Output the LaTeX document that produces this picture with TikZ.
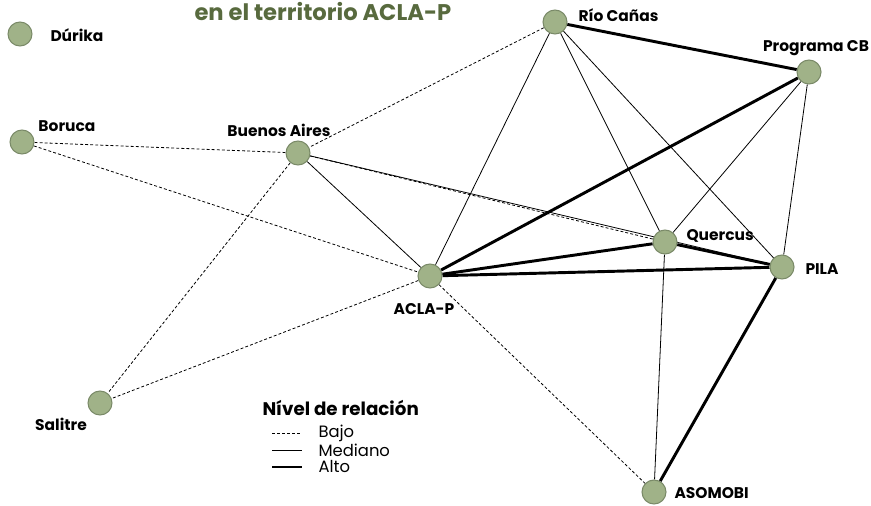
\documentclass[tikz,border=0pt]{standalone}
\usepackage{fontspec}
\setmainfont{Poppins}
\usetikzlibrary{positioning,backgrounds}
\definecolor{nodefill}{RGB}{160,178,136}
\definecolor{nodeline}{RGB}{122,138,104}
\definecolor{titlecol}{RGB}{88,106,62}
\tikzset{every picture/.style={line width=0.75pt}}
\tikzset{
  actor/.style={circle,draw=nodeline,fill=nodefill,line width=0.8pt,minimum size=18pt,inner sep=0pt},
  lbl/.style={inner sep=0.75pt,font=\fontsize{11.6}{14}\selectfont\bfseries},
  leg/.style={anchor=west,inner sep=0.75pt,font=\fontsize{12.3}{14}\selectfont},
  bajo/.style={draw=black,line width=0.6pt,dash pattern={on 2.2pt off 1.6pt}},
  mediano/.style={draw=black,line width=0.6pt},
  alto/.style={draw=black,line width=2.2pt}
}

\begin{document}
\begin{tikzpicture}[x=0.75pt,y=0.75pt,yscale=-1,xscale=1]
\useasboundingbox (0,0) rectangle (871,506);

% Title (cut at the top)
\node[anchor=west,inner sep=0pt,text=titlecol,font=\fontsize{17}{20}\selectfont\bfseries] (title) at (194,12) {en el territorio ACLA-P};

% Actors
\node[actor] (durika) at (20,34) {};
\node[actor] (boruca) at (22,142) {};
\node[actor] (baires) at (298,153) {};
\node[actor] (rio) at (555,22) {};
\node[actor] (pcb) at (809,72) {};
\node[actor] (quercus) at (665,242) {};
\node[actor] (pila) at (782,267) {};
\node[actor] (aclap) at (430,276) {};
\node[actor] (salitre) at (100,403) {};
\node[actor] (asomobi) at (654,492) {};

\begin{scope}[on background layer]
% Bajo
\draw[bajo] (rio) -- (baires);
\draw[bajo] (boruca) -- (baires);
\draw[bajo] (boruca) -- (aclap);
\draw[bajo] (baires) -- (salitre);
\draw[bajo] (baires) -- (quercus);
\draw[bajo] (aclap) -- (salitre);
\draw[bajo] (aclap) -- (asomobi);
% Mediano
\draw[mediano] (rio) -- (aclap);
\draw[mediano] (rio) -- (quercus);
\draw[mediano] (rio) -- (pila);
\draw[mediano] (pcb) -- (quercus);
\draw[mediano] (pcb) -- (pila);
\draw[mediano] (quercus) -- (asomobi);
\draw[mediano] (baires) -- (aclap);
\draw[mediano] (baires) -- (pila);
% Alto
\draw[alto] (rio) -- (pcb);
\draw[alto] (pcb) -- (aclap);
\draw[alto] (aclap) -- (quercus);
\draw[alto] (aclap) -- (pila);
\draw[alto] (quercus) -- (pila);
\draw[alto] (pila) -- (asomobi);
\end{scope}

% Text Node
\node[lbl,anchor=west] (tdurika) at (49,35) {Dúrika};
\node[lbl,anchor=west] (tboruca) at (37,126) {Boruca};
\node[lbl] (tbaires) at (279,130) {Buenos Aires};
\node[lbl,anchor=west] (trio) at (577,15) {Río Cañas};
\node[lbl] (tpcb) at (816,48) {Programa CB};
\node[lbl,anchor=west] (tquercus) at (685,236) {Quercus};
\node[lbl,anchor=west] (tpila) at (804,269) {PILA};
\node[lbl] (taclap) at (424,309) {ACLA-P};
\node[lbl] (tsalitre) at (61,424) {Salitre};
\node[lbl,anchor=west] (tasomobi) at (673,493) {ASOMOBI};

% Legend
\node[lbl,anchor=west,font=\fontsize{13.7}{16}\selectfont\bfseries] (leyenda) at (261,408) {Nível de relación};
\coordinate (b1) at (272,433); \coordinate (b2) at (302,433);
\coordinate (m1) at (272,450); \coordinate (m2) at (302,450);
\coordinate (a1) at (272,467); \coordinate (a2) at (302,467);
\draw[bajo] (b1) -- (b2);
\draw[mediano] (m1) -- (m2);
\draw[alto,line width=1.8pt] (a1) -- (a2);
\node[leg] (tbajo) at (317,433) {Bajo};
\node[leg] (tmed) at (317,450) {Mediano};
\node[leg] (talto) at (317,467) {Alto};

\end{tikzpicture}
\end{document}
